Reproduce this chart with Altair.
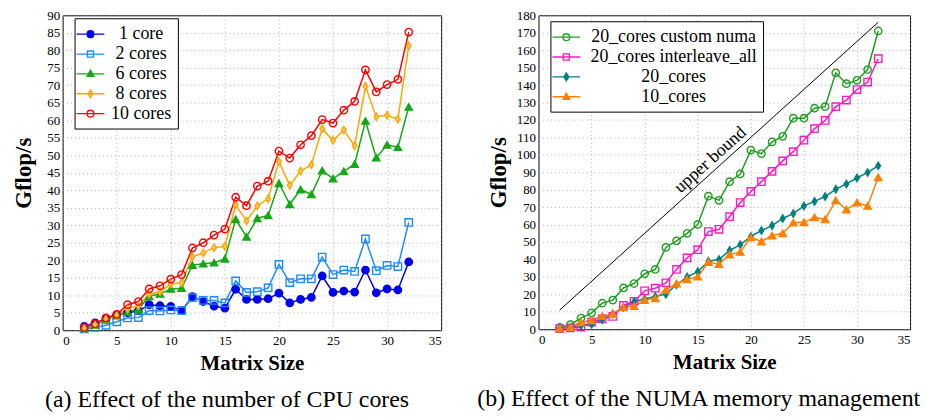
import altair as alt
import pandas as pd

sizes = list(range(2, 33))

# ---- panel (a): effect of the number of CPU cores ----
left_names = ["1 core", "2 cores", "6 cores", "8 cores", "10 cores"]
one_core = [1.1, 2.1, 3.1, 4.4, 5.0, 5.5, 7.3, 7.0, 6.8, 5.6, 9.6, 8.2, 6.9, 6.3, 11.7, 8.8,
            8.8, 9.0, 10.6, 7.8, 8.8, 9.4, 15.5, 10.8, 11.2, 10.9, 17.2, 10.7, 11.8, 11.5, 19.5]
two_cores = [0.4, 0.8, 1.4, 2.4, 3.5, 3.6, 5.6, 5.5, 5.8, 5.6, 9.3, 8.5, 8.5, 7.8, 14.1, 10.8,
             11.0, 12.1, 18.8, 13.6, 14.7, 14.7, 20.9, 15.9, 17.2, 16.8, 26.1, 17.0, 18.5, 18.2, 30.8]
six_cores = [0.5, 1.5, 3.0, 4.2, 5.2, 6.0, 9.7, 10.4, 11.8, 12.0, 18.6, 19.0, 19.3, 20.4, 31.7, 26.7,
             32.0, 32.8, 42.0, 36.0, 40.2, 38.8, 45.6, 43.3, 45.4, 47.5, 59.8, 49.3, 53.0, 52.3, 63.8]
eight_cores = [0.5, 1.5, 3.2, 4.3, 6.0, 7.0, 10.3, 11.0, 13.2, 13.6, 21.0, 22.1, 23.6, 24.0, 35.8, 31.2,
               35.5, 37.6, 48.2, 41.4, 45.5, 47.3, 57.6, 54.2, 57.2, 52.7, 69.7, 61.0, 61.4, 60.3, 81.3]
ten_cores = [0.8, 1.8, 3.5, 4.5, 7.3, 8.2, 11.8, 12.7, 14.6, 15.9, 23.5, 25.0, 27.2, 28.9, 38.0, 35.6,
             41.2, 42.6, 51.2, 49.2, 53.0, 55.6, 60.2, 59.2, 62.9, 65.4, 74.4, 68.1, 70.2, 71.7, 85.2]

left_strokes = ["#0000F0", "#1E8CFF", "#14A814", "#FFA500", "#FF0000"]
left_fills = ["#0000F0", "transparent", "#14A814", "#FFC966", "transparent"]

# ---- panel (b): effect of the NUMA memory management ----
right_names = ["20_cores custom numa", "20_cores interleave_all", "20_cores", "10_cores"]
custom_numa = [1.0, 2.6, 6.4, 9.4, 14.9, 16.7, 23.7, 26.2, 31.8, 34.3, 46.9, 50.7, 55.0, 60.1, 76.3, 73.9,
               84.6, 89.0, 102.7, 100.7, 107.4, 110.6, 121.0, 121.0, 126.7, 127.6, 147.0, 140.8, 142.7, 148.9, 171.0]
interleave_all = [0.4, 0.8, 1.2, 4.1, 6.0, 7.3, 13.6, 16.0, 22.0, 23.5, 26.6, 34.3, 40.9, 45.6, 56.0, 57.3,
                  64.5, 72.6, 79.0, 84.6, 90.5, 96.5, 101.8, 108.4, 115.0, 119.7, 127.6, 131.4, 137.4, 141.7, 155.1]
twenty_cores = [0.5, 1.0, 2.0, 2.8, 5.4, 8.8, 12.6, 15.8, 17.3, 18.8, 20.1, 25.5, 30.0, 33.0, 39.0, 40.0,
                45.2, 48.4, 53.2, 56.6, 59.4, 63.5, 66.3, 70.7, 73.3, 76.1, 80.3, 83.3, 86.7, 89.9, 93.7]
ten_cores_b = [0.3, 1.0, 4.0, 5.1, 7.5, 8.8, 12.6, 13.2, 16.7, 17.7, 22.6, 26.2, 28.6, 30.1, 38.5, 37.3,
               42.8, 44.3, 52.6, 50.3, 53.7, 55.0, 61.1, 61.3, 64.1, 63.0, 73.9, 68.6, 72.6, 70.7, 87.1]

right_strokes = ["#1E9E1E", "#FF19C4", "#008080", "#FF8000"]
right_fills = ["transparent", "transparent", "#008080", "#FF8000"]

bound_x = [2, 32]
bound_y = [11, 176]
bound_label = ["upper bound"]
bound_label_x = [16.2]
bound_label_y = [97]

# marker shapes (plot) and line+marker shapes (legend)
DIAMOND = "M0,-1L0.62,0L0,1L-0.62,0Z"
left_shapes = ["circle", "square", "triangle-up", DIAMOND, "circle"]
right_shapes = ["circle", "square", DIAMOND, "triangle-up"]

LINE = "M-1.55,0H1.55"
L_CIRCLE = LINE + "M-0.38,0A0.38,0.38,0,1,1,0.38,0A0.38,0.38,0,1,1,-0.38,0Z"
L_SQUARE = LINE + "M-0.34,-0.34H0.34V0.34H-0.34Z"
L_TRI = LINE + "M0,-0.42L0.38,0.28H-0.38Z"
L_DIAM = LINE + "M0,-0.44L0.28,0L0,0.44L-0.28,0Z"
left_legend_shapes = [L_CIRCLE, L_SQUARE, L_TRI, L_DIAM, L_CIRCLE]
right_legend_shapes = [L_CIRCLE, L_SQUARE, L_DIAM, L_TRI]

SERIF = "'Liberation Serif', 'DejaVu Serif', serif"


def long_df(names, series):
    rows = []
    for name, vals in zip(names, series):
        assert len(vals) == len(sizes)
        for s, v in zip(sizes, vals):
            rows.append({"size": s, "gflops": v, "series": name})
    return pd.DataFrame(rows)


def panel(df, names, strokes, fills, shapes, legend_shapes, ymax, ystep, width, height,
          caption, leg_x, leg_y, label_offset, title_pad, extra=None):
    x = alt.X("size:Q", scale=alt.Scale(domain=[0, 35], nice=False),
              axis=alt.Axis(values=list(range(0, 36, 5)), title="Matrix Size"))
    y = alt.Y("gflops:Q", scale=alt.Scale(domain=[0, ymax], nice=False),
              axis=alt.Axis(values=list(range(0, ymax + 1, ystep)), title="Gflop/s",
                            titlePadding=title_pad, titleFontSize=23))
    order = alt.Order("size:Q")

    lines = alt.Chart(df).mark_line(strokeWidth=1.5).encode(
        x=x, y=y, order=order,
        stroke=alt.Stroke("series:N", sort=names,
                          scale=alt.Scale(domain=names, range=strokes), legend=None),
    )
    points = alt.Chart(df).mark_point(filled=True, opacity=1, size=55, strokeWidth=1.4).encode(
        x=x, y=y,
        stroke=alt.Stroke("series:N", scale=alt.Scale(domain=names, range=strokes), legend=None),
        fill=alt.Fill("series:N", scale=alt.Scale(domain=names, range=fills), legend=None),
        shape=alt.Shape("series:N", scale=alt.Scale(domain=names, range=shapes), legend=None),
    )
    leg = alt.Legend(orient="none", legendX=leg_x, legendY=leg_y, title=None,
                     direction="vertical", symbolSize=324, symbolStrokeWidth=1.3,
                     labelFont=SERIF, labelFontSize=18, labelColor="black",
                     labelAlign="center", labelOffset=label_offset, labelLimit=400,
                     strokeColor="black", fillColor="white", padding=6, rowPadding=1,
                     cornerRadius=0)
    legend_layer = alt.Chart(df).transform_filter("datum.size < 0").mark_point(
        filled=True, opacity=1, strokeWidth=1.3).encode(
        x=x, y=y,
        stroke=alt.Stroke("series:N", scale=alt.Scale(domain=names, range=strokes), legend=leg),
        fill=alt.Fill("series:N", scale=alt.Scale(domain=names, range=fills), legend=leg),
        shape=alt.Shape("series:N", scale=alt.Scale(domain=names, range=legend_shapes), legend=leg),
    )
    layers = (extra(x, y) if extra else []) + [lines, points, legend_layer]
    return alt.layer(*layers).resolve_scale(
        stroke="independent", fill="independent", shape="independent"
    ).properties(
        width=width, height=height,
        title=alt.TitleParams(caption, orient="bottom", anchor="middle", frame="bounds",
                              font=SERIF, fontSize=24, fontWeight="normal", color="black",
                              offset=14),
    )


def bound_layers(x, y):
    bdf = pd.DataFrame({"size": bound_x, "gflops": bound_y})
    tdf = pd.DataFrame({"size": bound_label_x, "gflops": bound_label_y, "label": bound_label})
    line = alt.Chart(bdf).mark_line(color="black", strokeWidth=1).encode(x=x, y=y)
    text = alt.Chart(tdf).mark_text(angle=318, font=SERIF, fontSize=18, color="black",
                                    align="center", baseline="middle").encode(
        x=x, y=y, text="label:N")
    return [line, text]


left = panel(long_df(left_names, [one_core, two_cores, six_cores, eight_cores, ten_cores]),
             left_names, left_strokes, left_fills, left_shapes, left_legend_shapes,
             90, 5, 381, 317, "(a) Effect of the number of CPU cores",
             12, 3, 41, 11)
right = panel(long_df(right_names, [custom_numa, interleave_all, twenty_cores, ten_cores_b]),
              right_names, right_strokes, right_fills, right_shapes, right_legend_shapes,
              180, 10, 374, 316, "(b) Effect of the NUMA memory management",
              12, 6, 98, 6, extra=bound_layers)

chart = alt.hconcat(left, right, spacing=34).properties(
    padding={"left": 4, "top": -1, "right": 0, "bottom": 0}
).configure_view(
    stroke="black", strokeWidth=1
).configure_axis(
    labelFont=SERIF, labelFontSize=13, labelColor="black", labelPadding=3,
    titleFont=SERIF, titleFontSize=21, titleFontWeight="bold", titleColor="black",
    grid=True, gridDash=[1, 3], gridColor="#999999", gridWidth=0.8,
    ticks=False, domain=False,
).configure_axisX(titlePadding=6, labelPadding=4)

chart.save("out.html", embed_options={"renderer": "svg", "actions": False})
